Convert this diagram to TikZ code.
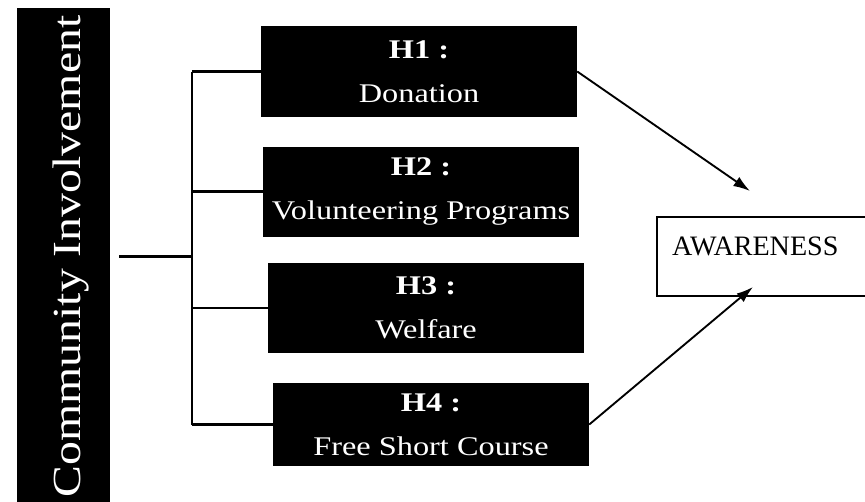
\documentclass[tikz,border=0pt]{standalone}
\usepackage{fontspec}
\setmainfont{Liberation Serif}
\newfontfamily\wideserif[FakeStretch=1.2]{Liberation Serif}
\usetikzlibrary{arrows.meta}

\tikzset{
	cibox/.style={fill=black, text=white, inner sep=0pt,
		minimum width=2.79cm, minimum height=14.91cm,
		font=\wideserif\fontsize{34}{40}\selectfont},
	hypbox/.style={fill=black, text=white, inner sep=0pt, align=center,
		minimum width=9.48cm, minimum height=2.7cm,
		font=\wideserif\fontsize{23}{37.5}\selectfont},
	outbox/.style={draw, line width=1pt, align=left, inner xsep=0.45cm,
		text width=6.39cm, minimum height=2.37cm, text depth=0.59cm,
		font=\fontsize{24}{28}\selectfont},
	link/.style={line width=2.4pt},
	effectline/.style={line width=1.6pt, -{Latex[length=0.5cm,width=0.33cm]}}
}

\begin{document}
\begin{tikzpicture}[x=0.03cm, y=-0.03cm]%[show background grid]

	\useasboundingbox (0,0) rectangle (865,501);
	\clip (0,0) rectangle (865,501);

	\node[cibox] (ci) at (63.5,256.5)
		{\rotatebox{90}{Community Involvement\rule{0pt}{1.26cm}}};

	\node[hypbox] (h1) at (419,71.5) {\textbf{H1 :}\\Donation};
	\node[hypbox] (h2) at (421,191.5) {\textbf{H2 :}\\Volunteering Programs};
	\node[hypbox] (h3) at (426,308) {\textbf{H3 :}\\Welfare};
	\node[hypbox, minimum height=2.5cm] (h4) at (431,424.5) {\textbf{H4 :}\\Free Short Course};

	\node[outbox] (awareness) at (778.5,256.5) {AWARENESS};

	\coordinate (fork) at (192,256.5);
	\coordinate (awtop) at (750,191);
	\coordinate (awbot) at (753,287);

	\draw[link] ([xshift=0.27cm]ci.east) -- (fork);
	\draw[link] (fork |- h1.west) -- (fork |- h4.west);
	\draw[link] (fork |- h1.west) -- (h1.west);
	\draw[link] (fork |- h2.west) -- (h2.west);
	\draw[link] (fork |- h3.west) -- (h3.west);
	\draw[link] (fork |- h4.west) -- (h4.west);

	\draw[effectline] (h1.east) -- (awtop);
	\draw[effectline] (h4.east) -- (awbot);

\end{tikzpicture}
\end{document}
